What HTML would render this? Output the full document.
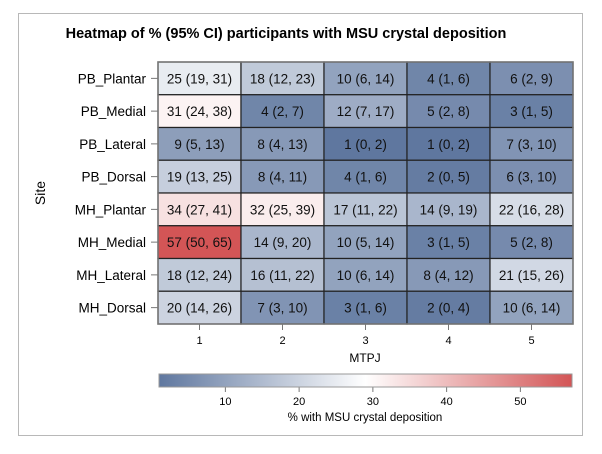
<!DOCTYPE html>
<html><head><meta charset="utf-8"><style>
body{margin:0;background:#fff;}
svg text{font-family:"Liberation Sans",sans-serif;}
</style></head><body>
<svg id="c" width="602" height="449" xmlns="http://www.w3.org/2000/svg">
<defs><linearGradient id="g" x1="0" x2="1" y1="0" y2="0">
<stop offset="0" stop-color="#5f779f"/><stop offset="0.5" stop-color="#ffffff"/><stop offset="1" stop-color="#d35556"/></linearGradient></defs>
<rect x="18.5" y="13.5" width="564" height="422" fill="#fff" stroke="#b8b8b8"/>
<text x="286" y="38" text-anchor="middle" font-size="14.5" font-weight="bold">Heatmap of % (95% CI) participants with MSU crystal deposition</text>
<g id="cells"></g>
<g id="axes"></g>
<rect x="159" y="374" width="413" height="13" fill="url(#g)" stroke="#999"/>
<text x="365" y="362" text-anchor="middle" font-size="12">MTPJ</text>
<text x="365" y="421" text-anchor="middle" font-size="11.5">% with MSU crystal deposition</text>
<text transform="translate(45,193) rotate(-90)" text-anchor="middle" font-size="14">Site</text>
</svg>
<script>
const rows=["PB_Plantar","PB_Medial","PB_Lateral","PB_Dorsal","MH_Plantar","MH_Medial","MH_Lateral","MH_Dorsal"];
const cols=["1","2","3","4","5"];
const vals=[[25,18,10,4,6],[31,4,12,5,3],[9,8,1,1,7],[19,8,4,2,6],[34,32,17,14,22],[57,14,10,3,5],[18,16,10,8,21],[20,7,3,2,10]];
const lo=[[19,12,6,1,2],[24,2,7,2,1],[5,4,0,0,3],[13,4,1,0,3],[27,25,11,9,16],[50,9,5,1,2],[12,11,6,4,15],[14,3,1,0,6]];
const hi=[[31,23,14,6,9],[38,7,17,8,5],[13,13,2,2,10],[25,11,6,5,10],[41,39,22,19,28],[65,20,14,5,8],[24,22,14,12,26],[26,10,6,4,14]];
const legendTicks=[10,20,30,40,50];
const vmin=1,vmax=57;
const X0=158,X1=573,Y0=62,Y1=324;
const cw=(X1-X0)/cols.length, rh=(Y1-Y0)/rows.length;
const xs=i=>X0+i*cw, ys=j=>Y0+j*rh;
const lx=v=>159+(v-vmin)/(vmax-vmin)*413;
function mix(a,b,t){return a.map((x,i)=>Math.round(x+(b[i]-x)*t));}
function color(v){const t=(v-vmin)/(vmax-vmin);const L=[95,119,159],W=[255,255,255],H=[211,85,86];
const c=t<0.5?mix(L,W,t/0.5):mix(W,H,(t-0.5)/0.5);return `rgb(${c})`;}
const NS="http://www.w3.org/2000/svg";
function el(tag,attrs,parent,txt){const e=document.createElementNS(NS,tag);for(const k in attrs)e.setAttribute(k,attrs[k]);if(txt!==undefined)e.textContent=txt;parent.appendChild(e);return e;}
const cg=document.getElementById('cells'),ag=document.getElementById('axes');
rows.forEach((r,j)=>{cols.forEach((c,i)=>{
 const rc=el('rect',{x:xs(i),y:ys(j),width:cw,height:rh,fill:color(vals[j][i]),stroke:'#222','stroke-width':1.2},cg);
 
 
 const t=el('text',{x:xs(i)+cw/2,y:ys(j)+rh/2+5,'text-anchor':'middle','font-size':13.5,fill:'#111'},cg,`${vals[j][i]} (${lo[j][i]}, ${hi[j][i]})`);
 
 
});
 const yl=el('text',{x:X0-12,y:ys(j)+rh/2+5,'text-anchor':'end','font-size':13.5},ag,r);
 
 
 el('line',{x1:X0-7,x2:X0,y1:ys(j)+rh/2,y2:ys(j)+rh/2,stroke:'#777'},ag);
});
el('rect',{x:X0,y:Y0,width:X1-X0,height:Y1-Y0,fill:'none',stroke:'#777','stroke-width':1.5},ag);
cols.forEach((c,i)=>{
 el('line',{x1:xs(i)+cw/2,x2:xs(i)+cw/2,y1:Y1,y2:Y1+6,stroke:'#777'},ag);
 const t=el('text',{x:xs(i)+cw/2,y:Y1+20,'text-anchor':'middle','font-size':11},ag,c);
 
 
});
legendTicks.forEach(v=>{
 el('line',{x1:lx(v),x2:lx(v),y1:387,y2:392,stroke:'#777'},ag);
 const t=el('text',{x:lx(v),y:405,'text-anchor':'middle','font-size':11},ag,v);
 
 
});
</script>
</body></html>
